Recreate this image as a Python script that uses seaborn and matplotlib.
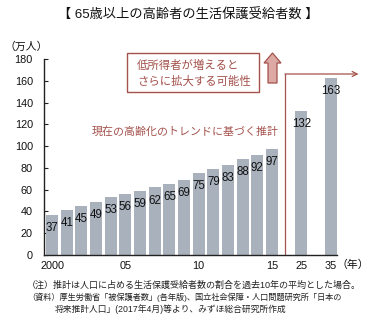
import matplotlib
matplotlib.use("Agg")
import matplotlib.pyplot as plt
import matplotlib.patches as mpatches
from matplotlib.transforms import IdentityTransform
import seaborn as sns
import pandas as pd

# ---- data ----
years = ["2000", "2001", "2002", "2003", "2004", "2005", "2006", "2007", "2008",
         "2009", "2010", "2011", "2012", "2013", "2014", "2015", "2025", "2035"]
values = [37, 41, 45, 49, 53, 56, 59, 62, 65, 69, 75, 79, 83, 88, 92, 97, 132, 163]
tick_years = ["2000", "2005", "2010", "2015", "2025", "2035"]
tick_labels = ["2000", "05", "10", "15", "25", "35"]
title = "【 65歳以上の高齢者の生活保護受給者数 】"
unit_label = "（万人）"
year_unit = "（年）"
box_text = "低所得者が増えると\nさらに拡大する可能性"
trend_text = "現在の高齢化のトレンドに基づく推計"
notes = [
    "（注）推計は人口に占める生活保護受給者数の割合を過去10年の平均とした場合。",
    "（資料）厚生労働省「被保護者数」(各年版)、国立社会保障・人口問題研究所「日本の",
    "将来推計人口」(2017年4月)等より、みずほ総合研究所作成",
]

sns.set_theme(style="white")
plt.rcParams["font.family"] = ["Liberation Sans", "Noto Sans CJK JP", "DejaVu Sans"]

W, H = 376, 330
fig = plt.figure(figsize=(W / 100, H / 100), dpi=100)
fig.patch.set_facecolor("white")

def fx(x):
    return x / W

def fy(y):
    return 1 - y / H

# axes: left spine at x=44, right end 337, y0 at 255, y180 at 59
ax = fig.add_axes([fx(44), fy(255), (337 - 44) / W, (255 - 59) / H])

# bar positions: yearly bars consecutive, then a gap, projections every other slot
pos = []
for i, yr in enumerate(years):
    if int(yr) <= 2015:
        pos.append(float(i))
    else:
        pos.append(pos[-1] + 2 if int(pos[-1]) >= 16 else 17.0)
df = pd.DataFrame({"pos": pos, "value": values, "year": years})

bar_color = "#a9b1bd"
red = "#a4524c"
sns.barplot(data=df, x="pos", y="value", native_scale=True, color=bar_color,
            saturation=1, width=0.82, ax=ax, edgecolor="none")

for p, v in zip(df["pos"], df["value"]):
    ax.annotate(str(v), (p, v), xytext=(0, -9.4), textcoords="offset points",
                ha="center", va="center", fontsize=8.3, color="#111111")

ax.set_xlim(-0.55, 19.43)
ax.set_ylim(0, 180)
ax.set_yticks(range(0, 181, 20))
tick_pos = [df.loc[df["year"] == t, "pos"].iloc[0] for t in tick_years]
ax.set_xticks(tick_pos)
ax.set_xticklabels(tick_labels)
ax.set_xlabel("")
ax.set_ylabel("")
ax.tick_params(axis="y", direction="in", length=3, width=0.8, color="#222222",
               labelsize=7.8, pad=8, left=True, labelcolor="#111111")
ax.tick_params(axis="x", length=0, labelsize=7.8, pad=4, labelcolor="#111111")
for s in ["top", "right"]:
    ax.spines[s].set_visible(False)
for s in ["left", "bottom"]:
    ax.spines[s].set_color("#222222")
    ax.spines[s].set_linewidth(1.0)
ax.grid(False)

# bracket line with open arrow
xline = 15.88
ytop = (255 - 74) / (196 / 180)
ax.plot([xline, xline], [0.8, ytop], color=red, lw=0.9, clip_on=False)
ax.annotate("", xy=(20.9, ytop), xytext=(xline, ytop),
            arrowprops=dict(arrowstyle="->", color=red, lw=0.9,
                            shrinkA=0, shrinkB=0, mutation_scale=9),
            annotation_clip=False)

# texts
fig.text(0.5, fy(15), title, ha="center", va="center", fontsize=9.5, color="#111111")
fig.text(fx(4), fy(47), unit_label, ha="left", va="center", fontsize=7.8, color="#111111")
fig.text(fx(353), fy(265), year_unit, ha="center", va="center", fontsize=7.8, color="#111111")
fig.text(fx(92), fy(132), trend_text, ha="left", va="center", fontsize=7.9, color=red)

# box
rect = mpatches.Rectangle((127, H - 92), 132, 39, transform=IdentityTransform(),
                          facecolor="white", edgecolor=red, lw=1.0)
fig.add_artist(rect)
fig.text(fx(137), fy(65), box_text.split("\n")[0], ha="left", va="center", fontsize=8.2, color=red)
fig.text(fx(137), fy(81), box_text.split("\n")[1], ha="left", va="center", fontsize=8.2, color=red)

# up arrow
arr = mpatches.FancyArrow(272.5, H - 83, 0, 30, width=9, head_width=17, head_length=10,
                          length_includes_head=True, transform=IdentityTransform(),
                          facecolor="#dca9a5", edgecolor=red, lw=0.9)
fig.add_artist(arr)

# notes
note_y = [285, 297, 309]
note_x = [27, 27, 55]
note_size = [6.5, 5.9, 6.3]
for t, x, y, s in zip(notes, note_x, note_y, note_size):
    fig.text(fx(x), fy(y), t, ha="left", va="center", fontsize=s, color="#222222")

fig.savefig("out.png", dpi=100)
